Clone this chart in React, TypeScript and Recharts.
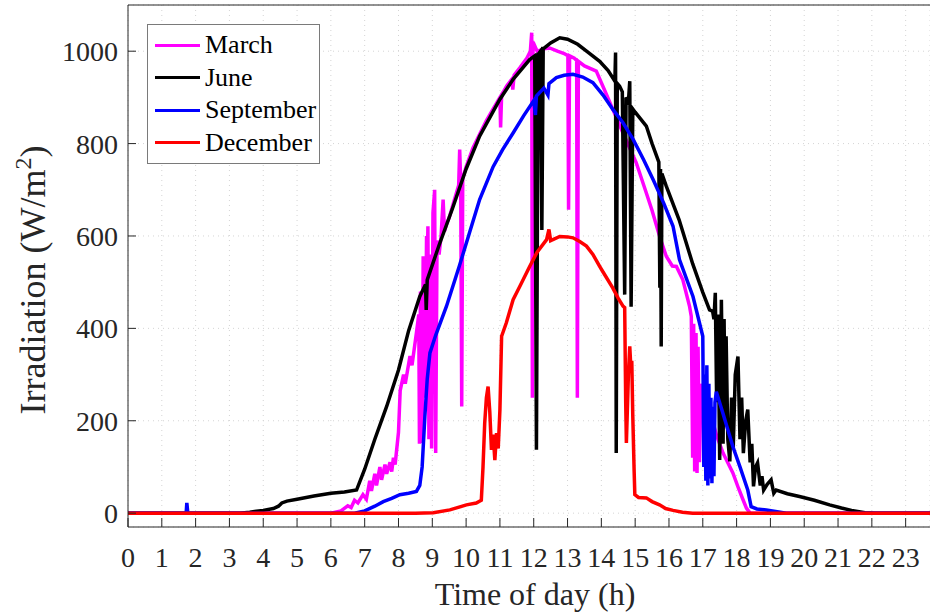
import { LineChart, Line, XAxis, YAxis, CartesianGrid } from 'recharts';

// [hour, W/m2] pairs
const marchData: [number, number][] = [
    [0, 0], [6.0, 0], [6.3, 5], [6.5, 16], [6.6, 12], [6.7, 28], [6.8, 22], [6.95, 40], [7.05, 30], [7.15, 70],
    [7.2, 48], [7.3, 85], [7.35, 60], [7.45, 100], [7.5, 72], [7.6, 105], [7.65, 85], [7.75, 110], [7.8, 90], [7.85, 120],
    [7.9, 105], [8.0, 175], [8.05, 265], [8.15, 300], [8.2, 280], [8.34, 340], [8.4, 320], [8.53, 390], [8.6, 430], [8.62, 150],
    [8.65, 480], [8.7, 152], [8.73, 556], [8.76, 460], [8.79, 250], [8.83, 600], [8.85, 520], [8.87, 621], [8.9, 160], [8.94, 560],
    [8.98, 140], [9.02, 650], [9.07, 700], [9.1, 130], [9.14, 590], [9.2, 560], [9.26, 600], [9.32, 679], [9.36, 610], [9.42, 625],
    [9.5, 640], [9.6, 665], [9.7, 690], [9.78, 710], [9.81, 787], [9.84, 715], [9.87, 231], [9.9, 725], [10.0, 750], [10.2, 790],
    [10.4, 820], [10.6, 850], [10.8, 875], [11.0, 900], [11.02, 835], [11.05, 905], [11.2, 925], [11.36, 940], [11.38, 917], [11.42, 948],
    [11.6, 965], [11.8, 985], [11.9, 1000], [11.94, 1040], [11.96, 250], [11.98, 1020], [12.1, 1000], [12.3, 1005], [12.47, 1007], [12.7, 1000],
    [12.9, 995], [13.01, 990], [13.03, 657], [13.06, 990], [13.2, 985], [13.27, 980], [13.29, 250], [13.32, 978], [13.5, 968], [13.85, 957],
    [14.1, 915], [14.34, 874], [14.64, 823], [15.03, 759], [15.33, 693], [15.5, 655], [15.72, 600], [15.92, 556], [16.1, 535], [16.22, 534],
    [16.41, 505], [16.61, 447], [16.66, 426], [16.7, 120], [16.73, 410], [16.76, 90], [16.8, 390], [16.83, 87], [16.86, 360], [16.9, 110],
    [16.95, 280], [17.0, 250], [17.2, 224], [17.4, 170], [17.6, 130], [17.89, 87], [18.05, 55], [18.19, 29], [18.29, 11], [18.4, 0],
    [23.72, 0],
];

const juneData: [number, number][] = [
    [0, 0], [3.3, 0], [3.6, 2], [4.0, 6], [4.3, 10], [4.45, 15], [4.55, 22], [4.7, 26], [5.0, 30], [5.5, 37],
    [6.0, 43], [6.4, 46], [6.76, 50], [7.0, 95], [7.3, 160], [7.65, 231], [8.0, 310], [8.3, 395], [8.63, 469], [8.8, 495],
    [8.82, 440], [8.85, 505], [9.2, 580], [9.6, 660], [10.0, 745], [10.4, 816], [11.0, 896], [11.39, 939], [11.88, 982], [12.03, 990],
    [12.08, 137], [12.13, 993], [12.2, 1000], [12.24, 613], [12.28, 1005], [12.5, 1018], [12.77, 1029], [13.0, 1026], [13.3, 1015], [13.6, 998],
    [13.95, 978], [14.2, 958], [14.4, 935], [14.42, 997], [14.44, 130], [14.47, 930], [14.54, 924], [14.62, 912], [14.69, 473], [14.73, 900],
    [14.8, 890], [14.84, 935], [14.88, 447], [14.93, 875], [15.0, 868], [15.33, 838], [15.5, 800], [15.7, 760], [15.73, 488], [15.75, 745],
    [15.77, 361], [15.79, 735], [15.92, 708], [16.3, 635], [16.7, 540], [17.0, 478], [17.2, 440], [17.29, 437], [17.33, 420], [17.37, 477],
    [17.41, 240], [17.45, 430], [17.5, 115], [17.55, 462], [17.6, 150], [17.63, 420], [17.66, 200], [17.69, 383], [17.74, 160], [17.8, 112],
    [17.85, 250], [17.9, 140], [17.96, 300], [18.04, 339], [18.1, 160], [18.15, 250], [18.2, 130], [18.27, 200], [18.33, 224], [18.4, 110],
    [18.45, 150], [18.5, 58], [18.56, 100], [18.62, 109], [18.7, 60], [18.75, 80], [18.8, 50], [18.9, 62], [19.02, 72], [19.1, 43],
    [19.17, 50], [19.5, 42], [19.86, 36], [20.3, 28], [20.75, 18], [21.1, 11], [21.4, 6], [21.8, 1], [22.1, 0], [23.72, 0],
];

const septemberData: [number, number][] = [
    [0, 0], [1.72, 0], [1.74, 22], [1.77, 0], [6.7, 0], [7.0, 5], [7.3, 15], [7.55, 25], [7.8, 32], [8.04, 40],
    [8.3, 43], [8.53, 47], [8.63, 60], [8.7, 100], [8.78, 209], [8.85, 290], [8.93, 347], [9.1, 385], [9.42, 448], [9.8, 535],
    [10.1, 607], [10.4, 679], [10.8, 750], [11.08, 787], [11.39, 823], [11.7, 860], [12.0, 893], [12.05, 862], [12.08, 903], [12.3, 920],
    [12.42, 905], [12.45, 930], [12.67, 943], [12.9, 948], [13.16, 950], [13.45, 944], [13.75, 932], [14.05, 905], [14.34, 874], [14.64, 845],
    [14.94, 809], [15.25, 765], [15.53, 722], [15.85, 670], [16.12, 621], [16.31, 549], [16.71, 469], [17.0, 383], [17.03, 100], [17.06, 300],
    [17.09, 70], [17.12, 320], [17.15, 60], [17.18, 280], [17.21, 75], [17.24, 250], [17.27, 65], [17.3, 230], [17.33, 80], [17.36, 240],
    [17.4, 263], [17.6, 215], [17.89, 144], [18.1, 100], [18.33, 50], [18.43, 14], [18.6, 9], [18.88, 7], [19.2, 3], [19.47, 0],
    [23.72, 0],
];

const decemberData: [number, number][] = [
    [0, 0], [8.5, 0], [9.03, 1], [9.52, 7], [10.01, 18], [10.3, 22], [10.45, 28], [10.5, 100], [10.55, 195], [10.6, 250],
    [10.65, 274], [10.7, 220], [10.75, 137], [10.8, 170], [10.85, 115], [10.9, 173], [10.95, 140], [11.0, 224], [11.05, 383], [11.19, 412],
    [11.39, 462], [11.59, 491], [11.88, 534], [12.1, 565], [12.38, 592], [12.45, 614], [12.5, 590], [12.77, 599], [13.0, 598], [13.16, 596],
    [13.36, 588], [13.56, 578], [13.75, 560], [13.95, 534], [14.05, 522], [14.34, 487], [14.5, 465], [14.64, 448], [14.69, 445], [14.72, 240],
    [14.74, 152], [14.8, 300], [14.84, 361], [14.88, 304], [14.9, 330], [14.93, 209], [14.97, 90], [14.99, 40], [15.1, 34], [15.33, 33],
    [15.5, 25], [15.72, 18], [15.9, 10], [16.12, 6], [16.4, 2], [16.7, 0], [23.72, 0],
];

const seriesNames = ['March', 'June', 'September', 'December'];
const seriesColors = ['#ff00ff', '#000000', '#0000ff', '#ff0000'];
const hourTicks = [0, 1, 2, 3, 4, 5, 6, 7, 8, 9, 10, 11, 12, 13, 14, 15, 16, 17, 18, 19, 20, 21, 22, 23];
const irradiationTicks = [0, 200, 400, 600, 800, 1000];

const FONT = '"Liberation Serif", "Times New Roman", serif';
const AXIS = '#262626';

const toPoints = (pairs: [number, number][]) => pairs.map(([t, v]) => ({ t, v }));

function YLabel() {
    return (
        <text transform="translate(45, 280) rotate(-90)" textAnchor="middle" fontFamily={FONT} fontSize={36} fill={AXIS}>
            Irradiation (W/m<tspan dy={-14} fontSize={24}>2</tspan><tspan dy={14}>)</tspan>
        </text>
    );
}

function XLabel() {
    return (
        <text x={535} y={605} textAnchor="middle" fontFamily={FONT} fontSize={32} fill={AXIS}>
            Time of day (h)
        </text>
    );
}

function XTick(props: any) {
    const { x, y, payload } = props;
    return (
        <text x={x} y={y} dy="0.71em" textAnchor="middle" fontFamily={FONT} fontSize={28} fill={AXIS}>
            {payload.value}
        </text>
    );
}

function YTick(props: any) {
    const { x, y, payload } = props;
    return (
        <text x={x} y={y} dy="0.355em" textAnchor="end" fontFamily={FONT} fontSize={28} fill={AXIS}>
            {payload.value}
        </text>
    );
}

export default function App() {
    const series = [marchData, juneData, septemberData, decemberData].map(toPoints);

    return (
        <div style={{ position: 'absolute', left: 0, top: 0, width: 930, height: 615, background: '#fff', fontFamily: FONT }}>
            <LineChart width={930} height={615} margin={{ top: 0, right: 0, bottom: 0, left: 0 }}>
                <CartesianGrid stroke="#d4d4d4" strokeDasharray="1 4" />
                <XAxis
                    type="number"
                    dataKey="t"
                    domain={[0, 23.72]}
                    ticks={hourTicks}
                    allowDataOverflow
                    height={88}
                    tickSize={-9}
                    tickMargin={29}
                    tick={<XTick />}
                    stroke={AXIS}
                    interval={0}
                    label={<XLabel />}
                />
                <XAxis
                    xAxisId="top"
                    orientation="top"
                    type="number"
                    dataKey="t"
                    domain={[0, 23.72]}
                    ticks={hourTicks}
                    allowDataOverflow
                    height={5}
                    tickSize={-9}
                    tick={false}
                    stroke={AXIS}
                />
                <YAxis
                    type="number"
                    domain={[-30, 1100]}
                    ticks={irradiationTicks}
                    allowDataOverflow
                    width={128}
                    tickSize={-8}
                    tickMargin={18}
                    tick={<YTick />}
                    stroke={AXIS}
                    label={<YLabel />}
                />
                {series.map((data, i) => (
                    <Line
                        key={seriesNames[i]}
                        data={data}
                        dataKey="v"
                        type="linear"
                        stroke={seriesColors[i]}
                        strokeWidth={3.5}
                        dot={false}
                        activeDot={false}
                        isAnimationActive={false}
                    />
                ))}
            </LineChart>

            {/* legend box */}
            <div style={{
                position: 'absolute', left: 147, top: 24, width: 171, height: 134,
                border: '1px solid #7a7a7a', background: '#fff', paddingTop: 4, boxSizing: 'content-box',
            }}>
                {seriesNames.map((name, i) => (
                    <div key={name} style={{ display: 'flex', alignItems: 'center', height: 32.5 }}>
                        <div style={{ marginLeft: 7, width: 45, height: 3, background: seriesColors[i] }} />
                        <span style={{ marginLeft: 5, fontFamily: FONT, fontSize: 26, color: '#000', lineHeight: '32px' }}>{name}</span>
                    </div>
                ))}
            </div>
        </div>
    );
}
